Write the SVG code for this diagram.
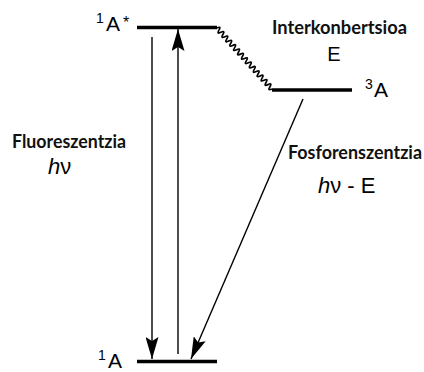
<svg xmlns="http://www.w3.org/2000/svg" width="424" height="372" viewBox="0 0 424 372">
<defs>
<style>
.level{stroke:#000;stroke-width:3.5;fill:none}
.arrow{stroke:#000;stroke-width:1.4;fill:none}
.lbl{font-family:"Liberation Sans",Arial,sans-serif;fill:#000}
.bold{font-family:Lato,"Open Sans",sans-serif;font-weight:bold;fill:#111}
</style>
<marker id="ah" viewBox="0 0 22 13" refX="22" refY="6.5" markerWidth="22" markerHeight="13" markerUnits="userSpaceOnUse" orient="auto">
<path d="M0,0 L22,6.5 L0,13 L4,6.5 Z" fill="#000"/>
</marker>
</defs>
<rect width="424" height="372" fill="#fff"/>
<g id="level-1Astar">
<line class="level" x1="137" y1="27.5" x2="217" y2="27.5"/>
<text class="lbl" x="96" y="23" font-size="14">1</text>
<text class="lbl" x="106" y="31" font-size="21">A</text>
<text class="lbl" x="123" y="28" font-size="16">*</text>
</g>
<g id="level-3A">
<line class="level" x1="272" y1="90" x2="352" y2="90"/>
<text class="lbl" x="365" y="89" font-size="14">3</text>
<text class="lbl" x="374" y="97" font-size="21">A</text>
</g>
<g id="level-1A">
<line class="level" x1="137" y1="361.5" x2="217" y2="361.5"/>
<text class="lbl" x="98" y="360" font-size="14">1</text>
<text class="lbl" x="108" y="368" font-size="21">A</text>
</g>
<g id="connectors">
<line class="arrow" x1="152" y1="37" x2="152" y2="359" marker-end="url(#ah)"/>
<line class="arrow" x1="178" y1="354" x2="178" y2="29" marker-end="url(#ah)"/>
<line class="arrow" x1="303" y1="99" x2="191" y2="359" marker-end="url(#ah)"/>
<g transform="translate(217,28) rotate(48)">
<path d="M0,0 q1.47,-5 2.93,0 t2.93,0 t2.93,0 t2.93,0 t2.93,0 t2.93,0 t2.93,0 t2.93,0 t2.93,0 t2.93,0 t2.93,0 t2.93,0 t2.93,0 t2.93,0 t2.93,0 t2.93,0 t2.93,0 t2.93,0 t2.93,0 t2.93,0 t2.93,0 t2.93,0 t2.93,0 t2.93,0 t2.93,0 t2.93,0 t2.93,0 t2.93,0" stroke="#000" stroke-width="1.7" fill="none"/>
</g>
</g>
<g id="label-isc">
<text class="bold" x="272" y="34" font-size="18" textLength="135" lengthAdjust="spacingAndGlyphs">Interkonbertsioa</text>
<text class="lbl" x="334" y="61" font-size="20" text-anchor="middle">E</text>
</g>
<g id="label-fluor">
<text class="bold" x="12" y="148" font-size="18" textLength="114" lengthAdjust="spacingAndGlyphs">Fluoreszentzia</text>
<text class="lbl" x="48" y="174" font-size="22"><tspan font-style="italic">h</tspan>ν</text>
</g>
<g id="label-phos">
<text class="bold" x="288" y="159" font-size="18" textLength="134" lengthAdjust="spacingAndGlyphs">Fosforenszentzia</text>
<text class="lbl" x="318" y="193" font-size="22"><tspan font-style="italic">h</tspan>ν - E</text>
</g>
</svg>
